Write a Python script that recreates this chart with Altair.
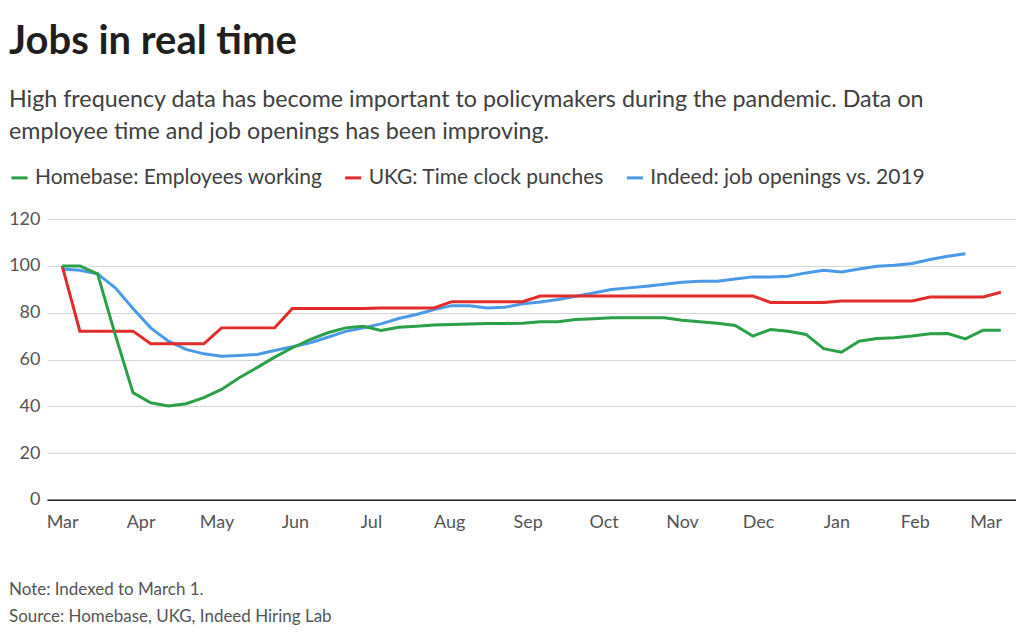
import altair as alt
import pandas as pd

FONT = "Lato"

# weekly observations starting 2020-03-01
start = pd.Timestamp("2020-03-01")

series_names = [
    "Homebase: Employees working",
    "UKG: Time clock punches",
    "Indeed: job openings vs. 2019",
]
series_colors = ["#2ca048", "#e22b2b", "#4a9ae8"]

homebase = [100, 100, 96.6, 70.5, 45.8, 41.5, 40.1, 41.1, 43.7, 47.2,
            52.2, 56.5, 61.0, 65.0, 68.5, 71.4, 73.5, 74.2, 72.4, 73.8,
            74.2, 74.7, 74.9, 75.2, 75.4, 75.4, 75.5, 76.1, 76.1, 77.1,
            77.4, 77.8, 77.8, 77.8, 77.8, 76.8, 76.1, 75.5, 74.5, 70.0,
            72.8, 72.1, 70.7, 64.6, 63.1, 67.8, 69.0, 69.3, 70.0, 71.0,
            71.1, 68.8, 72.5, 72.5]

ukg = [100, 72.1, 72.1, 72.1, 72.1, 66.7, 66.7, 66.7, 66.7, 73.5,
       73.5, 73.5, 73.5, 81.8, 81.8, 81.8, 81.8, 81.8, 82.0, 82.0,
       82.0, 82.0, 84.7, 84.7, 84.7, 84.7, 84.7, 87.1, 87.1, 87.1,
       87.1, 87.1, 87.1, 87.1, 87.1, 87.1, 87.1, 87.1, 87.1, 87.1,
       84.4, 84.4, 84.4, 84.4, 85.0, 85.0, 85.0, 85.0, 85.0, 86.7,
       86.7, 86.7, 86.7, 88.7]

indeed = [98.7, 98.1, 96.6, 90.6, 81.8, 73.5, 67.8, 64.3, 62.4, 61.4,
          61.7, 62.1, 63.8, 65.4, 67.1, 69.5, 72.0, 73.5, 75.2, 77.5,
          79.2, 81.3, 83.0, 83.0, 82.0, 82.3, 83.8, 84.6, 85.6, 87.0,
          88.4, 89.9, 90.6, 91.3, 92.1, 93.0, 93.4, 93.4, 94.4, 95.3,
          95.3, 95.6, 97.0, 98.1, 97.4, 98.7, 99.8, 100.3, 101.0, 102.7,
          104.1, 105.2]

y_ticks = [0, 20, 40, 60, 80, 100, 120]

title_text = "Jobs in real time"
subtitle_text = ("High frequency data has become important to policymakers during the pandemic. Data on\n"
                 "employee time and job openings has been improving.")
note_text = "Note: Indexed to March 1."
source_text = "Source: Homebase, UKG, Indeed Hiring Lab"

rows = []
# draw order: Indeed first, then UKG, then Homebase on top
for name, vals in [(series_names[2], indeed), (series_names[1], ukg), (series_names[0], homebase)]:
    for k, v in enumerate(vals):
        rows.append({"date": start + pd.Timedelta(days=7 * k), "value": v, "series": name})
df = pd.DataFrame(rows)

W, H = 970, 281
LEFT = -38

lines = alt.Chart(df).mark_line(strokeWidth=3).encode(
    x=alt.X(
        "date:T",
        scale=alt.Scale(domain=[alt.DateTime(year=2020, month=2, date=24),
                                alt.DateTime(year=2021, month=3, date=13)]),
        axis=alt.Axis(
            title=None, format="%b", tickCount={"interval": "month", "step": 1},
            ticks=False, grid=False, domainColor="#222222", domainWidth=1.5,
            labelFont=FONT, labelFontSize=18, labelColor="#555555", labelPadding=14,
            labelOverlap=False,
        ),
    ),
    y=alt.Y(
        "value:Q",
        scale=alt.Scale(domain=[0, 120], nice=False),
        axis=alt.Axis(
            title=None, values=y_ticks, domain=False, ticks=False,
            gridColor="#d4d4d4", gridWidth=1,
            labelFont=FONT, labelFontSize=18, labelColor="#555555", labelPadding=7,
        ),
    ),
    color=alt.Color(
        "series:N",
        scale=alt.Scale(domain=series_names, range=series_colors),
        legend=alt.Legend(
            title=None, orient="none", legendX=LEFT, legendY=-52,
            direction="horizontal", symbolType="stroke", symbolSize=260,
            symbolStrokeWidth=3, labelFont=FONT, labelFontSize=21,
            labelColor="#404040", labelLimit=500, labelOffset=5,
            columnPadding=16, padding=0,
        ),
    ),
)


def text_layer(txt, y, size, weight="normal", color="#404040", line_height=None):
    kw = dict(align="left", baseline="alphabetic", font=FONT, fontSize=size,
              fontWeight=weight, color=color, lineBreak="\n")
    if line_height is not None:
        kw["lineHeight"] = line_height
    return alt.Chart(pd.DataFrame({"t": [txt]})).mark_text(**kw).encode(
        x=alt.value(LEFT), y=alt.value(y), text="t:N"
    )


chart = alt.layer(
    lines,
    text_layer(title_text, -165, 40, weight="bold", color="#1f1f1f"),
    text_layer(subtitle_text, -112, 23.3, line_height=32),
    text_layer(note_text, 376, 17, color="#555555"),
    text_layer(source_text, 403, 17, color="#555555"),
).properties(
    width=W, height=H,
    padding={"left": 0, "top": 14, "right": 0, "bottom": 0},
    background="white",
).configure_view(stroke=None)

chart.save("out.html", embed_options={"renderer": "svg", "actions": False})
